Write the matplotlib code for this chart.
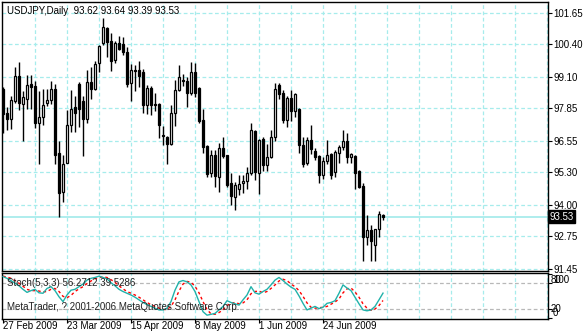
import numpy as np
import matplotlib
matplotlib.use('Agg')
from matplotlib import pyplot as plt

plt.rcParams['font.family'] = ['Liberation Sans', 'DejaVu Sans']

# daily candles, first bar = 27 Feb 2009
opens = [98.61, 97.68, 97.44, 98.16, 99.14, 98.03, 98.24, 98.82, 98.74, 97.28,
         97.52, 98.08, 98.18, 98.64, 96.06, 94.52, 95.69, 97.17, 97.89, 98.82,
         98.16, 97.44, 98.90, 98.64, 99.65, 100.44, 101.04, 100.52, 99.78, 100.44,
         100.42, 100.10, 98.85, 99.38, 99.38, 99.30, 97.97, 98.66, 98.03, 98.03,
         96.76, 96.72, 96.43, 97.65, 98.58, 98.96, 98.95, 98.45, 99.30, 98.66,
         97.39, 96.35, 95.29, 96.01, 95.10, 96.27, 95.98, 94.86, 94.33, 94.65,
         94.86, 94.94, 95.26, 96.94, 95.29, 96.64, 95.61, 95.93, 96.70, 98.77,
         98.45, 97.39, 98.26, 97.73, 97.84, 96.38, 95.69, 96.59, 96.14, 95.95,
         95.21, 95.74, 96.03, 95.32, 96.06, 96.30, 96.54, 95.90, 95.95, 95.34,
         94.76, 92.71, 93.00, 92.39, 93.03, 93.62]
highs = [98.69, 97.89, 98.34, 99.49, 99.70, 98.53, 99.17, 99.17, 98.93, 98.53,
         98.64, 98.64, 98.95, 98.82, 96.56, 95.98, 97.79, 98.58, 98.34, 98.90,
         98.34, 99.38, 99.49, 99.75, 100.39, 101.45, 101.11, 100.84, 100.55, 100.73,
         100.71, 100.28, 99.62, 99.57, 99.72, 99.43, 98.80, 98.74, 98.45, 98.08,
         97.15, 96.75, 97.97, 98.98, 99.57, 99.22, 99.11, 99.70, 99.67, 98.69,
         97.84, 96.38, 96.19, 96.19, 96.48, 96.70, 96.01, 95.26, 94.92, 95.21,
         95.21, 95.50, 97.25, 96.99, 96.64, 96.70, 96.43, 96.99, 98.87, 98.87,
         98.58, 98.34, 98.58, 98.45, 97.87, 96.72, 96.72, 97.17, 96.27, 95.98,
         95.93, 96.59, 96.09, 96.19, 96.40, 96.99, 96.88, 96.09, 96.01, 95.40,
         94.86, 93.62, 93.19, 93.05, 93.78, 93.64]
lows = [96.86, 96.99, 97.02, 98.08, 97.79, 96.56, 97.84, 97.84, 97.07, 95.63,
        97.17, 97.95, 98.03, 95.63, 93.54, 94.12, 95.66, 96.91, 96.91, 97.12,
        95.95, 97.25, 98.21, 98.58, 99.30, 100.36, 99.88, 99.33, 99.65, 100.18,
        99.96, 98.72, 98.16, 98.53, 98.69, 97.65, 97.63, 97.57, 97.76, 96.67,
        96.40, 95.63, 96.40, 97.15, 98.53, 98.74, 97.92, 98.40, 98.32, 97.25,
        96.09, 95.13, 95.13, 94.73, 94.52, 95.87, 94.71, 93.99, 93.80, 94.41,
        94.49, 94.65, 95.21, 95.00, 94.44, 95.34, 95.37, 95.87, 96.54, 98.21,
        97.25, 97.10, 97.36, 97.49, 96.06, 95.53, 95.61, 96.03, 95.79, 94.86,
        95.02, 95.63, 95.05, 95.13, 95.66, 96.19, 95.69, 95.69, 94.65, 94.68,
        91.78, 92.39, 91.78, 91.76, 92.71, 93.39]
closes = [97.63, 97.44, 98.18, 99.14, 98.08, 98.29, 98.77, 98.72, 97.28, 97.49,
          98.00, 98.18, 98.64, 96.01, 94.49, 95.63, 97.17, 97.84, 97.68, 97.84,
          97.44, 98.90, 98.64, 99.62, 100.34, 101.08, 100.51, 99.72, 100.44, 100.23,
          100.10, 98.82, 99.38, 99.33, 99.14, 98.00, 98.66, 97.97, 97.97, 97.17,
          96.75, 96.43, 97.65, 98.58, 99.09, 98.95, 98.45, 99.30, 98.45, 97.36,
          96.33, 95.24, 95.98, 95.16, 96.27, 95.95, 94.81, 94.37, 94.79, 94.84,
          94.94, 95.29, 96.99, 95.32, 96.59, 95.61, 95.93, 96.70, 98.64, 98.42,
          97.39, 98.26, 97.73, 98.42, 96.38, 95.63, 96.59, 96.25, 95.93, 95.21,
          95.74, 95.98, 95.21, 96.11, 96.33, 96.54, 95.90, 96.03, 95.29, 94.73,
          92.71, 93.00, 92.55, 93.03, 93.64, 93.53]

stoch_main = [94, 90, 85, 79, 73, 65, 58, 62, 65, 57, 56, 67, 71, 62, 48, 37,
              52, 63, 65, 71, 77, 86, 90, 92, 95, 92, 89, 80, 73, 65, 60, 56,
              52, 47, 41, 35, 30, 26, 22, 18, 18, 22, 37, 63, 82, 85, 82, 75,
              60, 37, 14, 6, 8, 10, 18, 26, 39, 35, 32, 29, 41, 52, 71, 57,
              54, 60, 65, 75, 86, 92, 85, 77, 70, 65, 50, 33, 18, 22, 26, 21,
              24, 33, 35, 39, 56, 75, 68, 62, 47, 32, 18, 16, 18, 26, 41, 56.27]
stoch_signal = [95, 93, 90, 85, 79, 72, 65, 62, 62, 61, 59, 60, 65, 67, 60, 49,
                46, 51, 60, 66, 71, 78, 84, 89, 92, 93, 92, 87, 81, 73, 66, 60,
                56, 52, 47, 41, 35, 30, 26, 22, 19, 19, 26, 41, 61, 77, 83, 81,
                72, 57, 37, 19, 9, 8, 12, 18, 28, 33, 35, 32, 34, 41, 55, 60,
                61, 57, 60, 67, 75, 84, 88, 85, 77, 71, 62, 49, 34, 24, 22, 23,
                24, 26, 31, 36, 43, 57, 66, 68, 59, 47, 32, 22, 17, 20, 28, 39.53]

price_ticks = [101.65, 100.40, 99.10, 97.85, 96.55, 95.30, 94.00, 92.75, 91.45]
stoch_ticks = [0, 20, 80, 100]
date_bars = [0, 16, 32, 48, 64, 80]
date_labels = ['27 Feb 2009', '23 Mar 2009', '15 Apr 2009', '8 May 2009',
               '1 Jun 2009', '24 Jun 2009']
last_price = 93.53

W, H = 584, 332
grid_c = '#a6ecec'
dash = (0, (3, 2))

fig = plt.figure(figsize=(W / 100, H / 100), dpi=100)


def px_axes(l, t, r, b):
    return fig.add_axes([l / W, 1 - b / H, (r - l) / W, (b - t) / H])


ax = px_axes(2, 2, 548, 271)
ax2 = px_axes(2, 273, 548, 319)

idx = np.arange(len(opens))
o = np.array(opens)
c = np.array(closes)
xmin, xmax = -0.25, 136.25

for a in (ax, ax2):
    a.set_xlim(xmin, xmax)
    for v in range(8, 137, 8):
        a.axvline(v, color=grid_c, lw=0.9, ls=dash, zorder=0)
    for s in a.spines.values():
        s.set_color('black')
        s.set_linewidth(1)
    a.yaxis.tick_right()
    a.tick_params(axis='y', length=3, width=0.8, labelsize=7, pad=1, colors='black')

# price panel
ax.set_ylim(91.37, 102.09)
for p in price_ticks:
    ax.axhline(p, color=grid_c, lw=0.9, ls=dash, zorder=0)
ax.axhline(last_price, color='#a8ecec', lw=1.3, zorder=1)

ax.vlines(idx, lows, highs, color='black', lw=1, zorder=2)
bull = c >= o
body_h = np.maximum(np.abs(c - o), 0.025)
ax.bar(idx[bull], body_h[bull], bottom=np.minimum(o, c)[bull], width=0.55,
       color='white', edgecolor='black', linewidth=0.9, zorder=3)
ax.bar(idx[~bull], body_h[~bull], bottom=np.minimum(o, c)[~bull], width=0.55,
       color='black', edgecolor='black', linewidth=0.9, zorder=3)

ax.set_xticks([])
ax.set_yticks(price_ticks)
ax.set_yticklabels(['%.2f' % p for p in price_ticks])
ax.text(1.003, last_price, '93.53', transform=ax.get_yaxis_transform(),
        ha='left', va='center', fontsize=7, color='white', zorder=5,
        bbox=dict(boxstyle='square,pad=0.15', fc='black', ec='black'))

fig.text(7 / W, 1 - 11 / H, 'USDJPY,Daily  93.62 93.64 93.39 93.53',
         fontsize=7, va='center', ha='left', color='black')

# stochastic panel
ax2.set_ylim(-2.7, 102.2)
for lv in (20, 80):
    ax2.axhline(lv, color='#b8b8b8', lw=0.9, ls=dash, zorder=0)
ax2.plot(idx, stoch_main, color='#20b2aa', lw=1, zorder=3)
ax2.plot(idx, stoch_signal, color='red', lw=1, ls=(0, (2, 2)), zorder=2)
ax2.set_yticks(stoch_ticks)
ax2.set_yticklabels([])
# level labels drawn like the terminal does, squeezed into the small panel
fig.text(551 / W, 1 - 280 / H, '80', fontsize=7, va='center', ha='left')
fig.text(553 / W, 1 - 280 / H, '100', fontsize=7, va='center', ha='left')
fig.text(551 / W, 1 - 309 / H, '20', fontsize=7, va='center', ha='left')
fig.text(553 / W, 1 - 313 / H, '0', fontsize=7, va='center', ha='left')

ax2.set_xticks(date_bars)
ax2.set_xticklabels(date_labels, ha='left')
ax2.tick_params(axis='x', length=3, width=0.8, labelsize=7, pad=-1.5, colors='black')

fig.text(7 / W, 1 - 283 / H, 'Stoch(5,3,3) 56.2712 39.5286', fontsize=7,
         va='center', ha='left', color='#222222')
fig.text(7 / W, 1 - 307 / H, 'MetaTrader, ? 2001-2006 MetaQuotes Software Corp.',
         fontsize=7, va='center', ha='left', color='#222222')

fig.savefig('out.png', dpi=100, facecolor='white')
